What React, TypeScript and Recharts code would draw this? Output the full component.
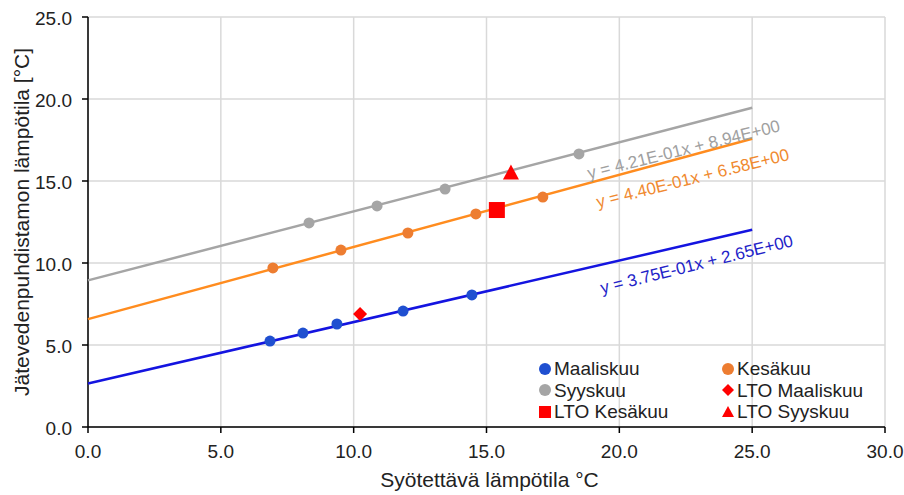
import { ComposedChart, Scatter, XAxis, YAxis, CartesianGrid } from 'recharts'

// measured points
const maaliskuuX = [6.85, 8.09, 9.37, 11.86, 14.45]
const maaliskuuY = [5.24, 5.73, 6.28, 7.07, 8.05]
const kesakuuX = [6.96, 9.52, 12.04, 14.6, 17.12]
const kesakuuY = [9.7, 10.79, 11.83, 12.99, 14.02]
const syyskuuX = [8.32, 10.88, 13.44, 18.48]
const syyskuuY = [12.44, 13.48, 14.51, 16.65]

// LTO points
const ltoMaaliskuu = { x: 10.24, y: 6.89 }
const ltoKesakuu = { x: 15.39, y: 13.23 }
const ltoSyyskuu = { x: 15.92, y: 15.45 }

// trend lines (from the displayed equations)
const trendNames = ['maaliskuu', 'kesakuu', 'syyskuu']
const trendSlopes = [0.375, 0.44, 0.421]
const trendIntercepts = [2.65, 6.58, 8.94]
const trendRange = [0, 25]
const trendLabels = ['y = 3.75E-01x + 2.65E+00', 'y = 4.40E-01x + 6.58E+00', 'y = 4.21E-01x + 8.94E+00']
const labelX = [22.92, 22.77, 22.43]
const labelY = [9.85, 15.1, 16.85]

const xTicks = [0, 5, 10, 15, 20, 25, 30]
const yTicks = [0, 5, 10, 15, 20, 25]

const BLUE_LINE = '#1414e0'
const BLUE_DOT = '#1f4fd0'
const ORANGE_LINE = '#ff8c1f'
const ORANGE_DOT = '#ed7d31'
const GRAY = '#a5a5a5'
const RED = '#ff0000'
const FONT = '"Liberation Sans", Arial, sans-serif'
const TEXT = '#222'

const lineColors = [BLUE_LINE, ORANGE_LINE, GRAY]
const labelColors = ['#2323c8', '#f08a30', '#a0a0a0']

const toPoints = (xs: number[], ys: number[]) => xs.map((x, i) => ({ x, y: ys[i] }))

const trendData = trendNames.map((_, i) =>
  trendRange.map((x) => ({ x, y: trendSlopes[i] * x + trendIntercepts[i] })),
)

const dot = (color: string) => (p: any) => <circle cx={p.cx} cy={p.cy} r={5.5} fill={color} />
const diamond = (p: any) => (
  <polygon points={`${p.cx},${p.cy - 7} ${p.cx + 7},${p.cy} ${p.cx},${p.cy + 7} ${p.cx - 7},${p.cy}`} fill={RED} />
)
const square = (p: any) => <rect x={p.cx - 8} y={p.cy - 8} width={16} height={16} fill={RED} />
const triangle = (p: any) => (
  <polygon points={`${p.cx},${p.cy - 9} ${p.cx + 8},${p.cy + 6} ${p.cx - 8},${p.cy + 6}`} fill={RED} />
)
const noShape = () => <g />

const eqLabel = (i: number) => (p: any) => (
  <text
    x={p.cx}
    y={p.cy}
    transform={`rotate(-14 ${p.cx} ${p.cy})`}
    textAnchor="middle"
    dominantBaseline="middle"
    fill={labelColors[i]}
    fontSize={17}
    fontFamily={FONT}
  >
    {trendLabels[i]}
  </text>
)

const XTick = (p: any) => (
  <text x={p.x} y={p.y + 23} textAnchor="middle" fontSize={19} fontFamily={FONT} fill={TEXT}>
    {Number(p.payload.value).toFixed(1)}
  </text>
)
const YTick = (p: any) => (
  <text x={p.x - 8} y={p.y + 8} textAnchor="end" fontSize={19} fontFamily={FONT} fill={TEXT}>
    {Number(p.payload.value).toFixed(1)}
  </text>
)
const XTitle = (p: any) => {
  const vb = p.viewBox
  return (
    <text x={vb.x + vb.width / 2 + 3} y={487} textAnchor="middle" fontSize={21} fontFamily={FONT} fill={TEXT}>
      Syötettävä lämpötila °C
    </text>
  )
}
const YTitle = (p: any) => {
  const vb = p.viewBox
  const cy = vb.y + vb.height / 2
  return (
    <text x={29} y={cy} transform={`rotate(-90 29 ${cy})`} textAnchor="middle" fontSize={21} fontFamily={FONT} fill={TEXT}>
      Jätevedenpuhdistamon lämpötila [°C]
    </text>
  )
}

const legendItems = [
  { name: 'Maaliskuu', mark: 'circle', color: BLUE_DOT },
  { name: 'Kesäkuu', mark: 'circle', color: ORANGE_DOT },
  { name: 'Syyskuu', mark: 'circle', color: GRAY },
  { name: 'LTO Maaliskuu', mark: 'diamond', color: RED },
  { name: 'LTO Kesäkuu', mark: 'square', color: RED },
  { name: 'LTO Syyskuu', mark: 'triangle', color: RED },
]

function LegendMark({ mark, color }: { mark: string; color: string }) {
  return (
    <svg width={14} height={14} style={{ marginRight: 2 }}>
      {mark === 'circle' && <circle cx={7} cy={7} r={6} fill={color} />}
      {mark === 'diamond' && <polygon points="7,1 13,7 7,13 1,7" fill={color} />}
      {mark === 'square' && <rect x={1} y={1} width={12} height={12} fill={color} />}
      {mark === 'triangle' && <polygon points="7,1 13,12 1,12" fill={color} />}
    </svg>
  )
}

export default function App() {
  return (
    <div style={{ position: 'absolute', left: 0, top: 0, width: 904, height: 495, background: '#fff' }}>
      <ComposedChart width={904} height={495} margin={{ top: 17, right: 19, bottom: 0, left: 0 }}>
        <CartesianGrid stroke="#d9d9d9" strokeWidth={1.5} />
        <XAxis
          type="number"
          dataKey="x"
          domain={[0, 30]}
          ticks={xTicks}
          tick={XTick}
          tickSize={6}
          tickLine={{ stroke: '#000', strokeWidth: 1.5 }}
          axisLine={{ stroke: '#000', strokeWidth: 1.5 }}
          height={68}
          label={{ content: XTitle }}
        />
        <YAxis
          type="number"
          dataKey="y"
          domain={[0, 25]}
          ticks={yTicks}
          tick={YTick}
          tickSize={6}
          tickLine={{ stroke: '#000', strokeWidth: 1.5 }}
          axisLine={{ stroke: '#000', strokeWidth: 1.5 }}
          width={88}
          label={{ content: YTitle }}
        />
        {trendData.map((d, i) => (
          <Scatter
            key={trendNames[i]}
            data={d}
            line={{ stroke: lineColors[i], strokeWidth: 2.5 }}
            shape={noShape}
            isAnimationActive={false}
          />
        ))}
        <Scatter data={toPoints(maaliskuuX, maaliskuuY)} shape={dot(BLUE_DOT)} isAnimationActive={false} />
        <Scatter data={toPoints(kesakuuX, kesakuuY)} shape={dot(ORANGE_DOT)} isAnimationActive={false} />
        <Scatter data={toPoints(syyskuuX, syyskuuY)} shape={dot(GRAY)} isAnimationActive={false} />
        <Scatter data={[ltoMaaliskuu]} shape={diamond} isAnimationActive={false} />
        <Scatter data={[ltoKesakuu]} shape={square} isAnimationActive={false} />
        <Scatter data={[ltoSyyskuu]} shape={triangle} isAnimationActive={false} />
        {trendNames.map((n, i) => (
          <Scatter key={'lbl-' + n} data={[{ x: labelX[i], y: labelY[i] }]} shape={eqLabel(i)} isAnimationActive={false} />
        ))}
      </ComposedChart>
      <div
        style={{
          position: 'absolute',
          left: 538,
          top: 358,
          width: 360,
          display: 'grid',
          gridTemplateColumns: '183px 177px',
          fontFamily: FONT,
          fontSize: 19,
          color: TEXT,
          lineHeight: '21.5px',
        }}
      >
        {legendItems.map((it) => (
          <div key={it.name} style={{ display: 'flex', alignItems: 'center', whiteSpace: 'nowrap' }}>
            <LegendMark mark={it.mark} color={it.color} />
            <span>{it.name}</span>
          </div>
        ))}
      </div>
    </div>
  )
}
